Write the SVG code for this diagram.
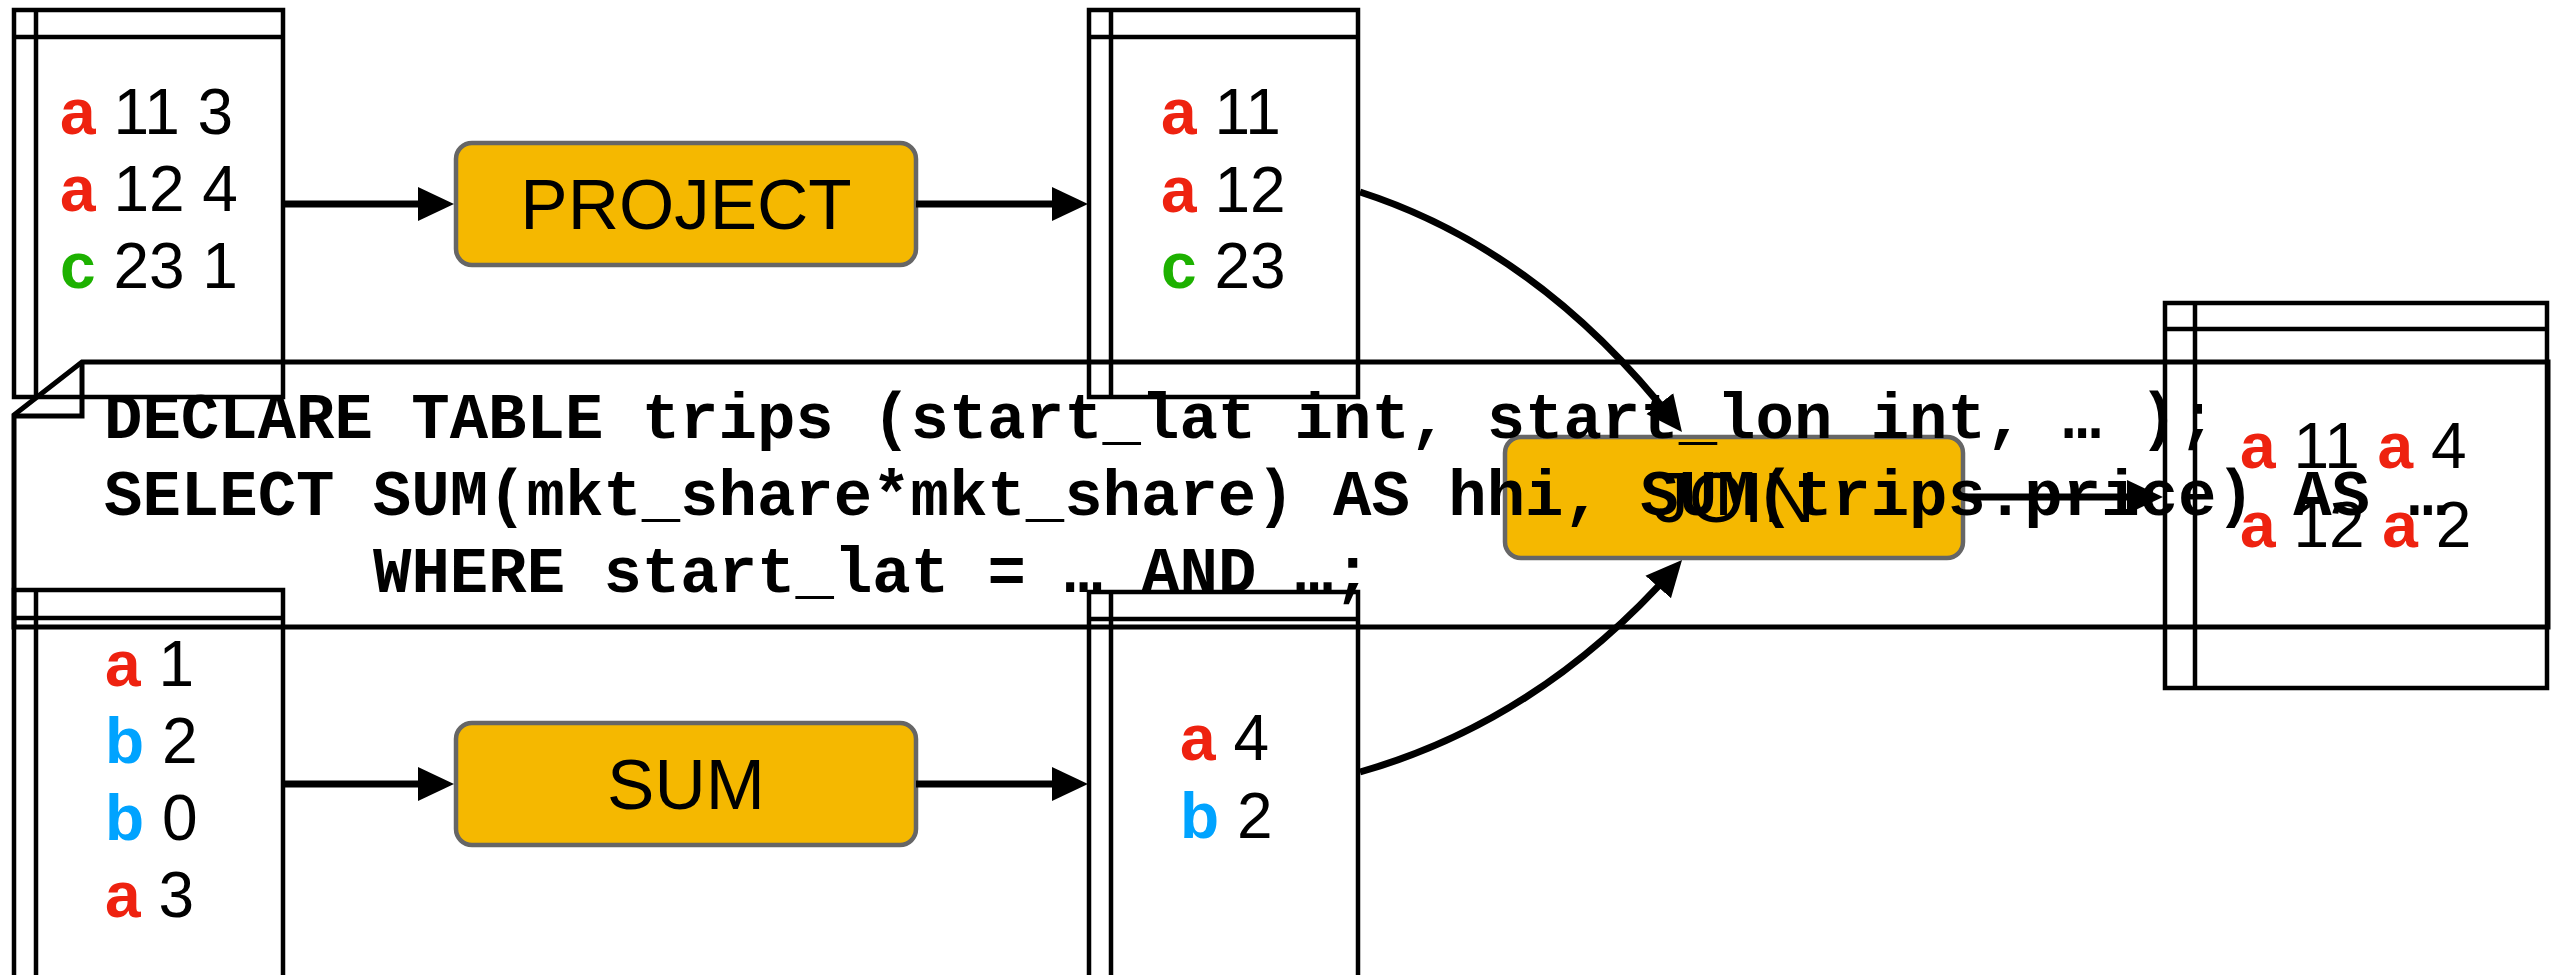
<svg xmlns="http://www.w3.org/2000/svg" width="2561" height="975" viewBox="0 0 2561 975">
  <style>
    .tbl { fill: #ffffff; stroke: #000000; stroke-width: 4.5; }
    .tline { fill: none; stroke: #000000; stroke-width: 4.5; }
    .note { fill: none; stroke: #000000; stroke-width: 5; stroke-linejoin: miter; }
    .op { fill: #f5b800; stroke: #666666; stroke-width: 4.5; }
    .opl { font-family: "Liberation Sans", Arial, Helvetica, sans-serif; font-size: 71px; fill: #000000; text-anchor: middle; }
    .row { font-family: "Liberation Sans", Arial, Helvetica, sans-serif; font-size: 64px; fill: #000000; }
    .ka { fill: #ee2210; font-weight: bold; }
    .kb { fill: #00a3ff; font-weight: bold; }
    .kc { fill: #1db100; font-weight: bold; }
    .sql { font-family: "Liberation Mono", "Courier New", monospace; font-size: 64px; font-weight: bold; fill: #000000; }
    .edge { fill: none; stroke: #000000; stroke-width: 7; }
  </style>
  <defs>
    <marker id="arrow" markerUnits="userSpaceOnUse" markerWidth="36" markerHeight="36" viewBox="0 0 36 36" refX="26" refY="18" orient="auto">
      <path d="M0,1 L36,18 L0,35 z" fill="#000000"/>
    </marker>
  </defs>

  <rect width="2561" height="975" fill="#ffffff"/>

  <!-- input table: key, lat, lon -->
  <g id="trips">
    <rect class="tbl" x="14" y="10" width="269" height="387"/>
    <path class="tline" d="M36,10 V397 M14,37 H283"/>
    <text class="row" x="60" y="134" xml:space="preserve"><tspan class="ka">a</tspan> 11 3</text>
    <text class="row" x="60" y="211" xml:space="preserve"><tspan class="ka">a</tspan> 12 4</text>
    <text class="row" x="60" y="288" xml:space="preserve"><tspan class="kc">c</tspan> 23 1</text>
  </g>

  <!-- projected table -->
  <g id="projected">
    <rect class="tbl" x="1089" y="10" width="269" height="387"/>
    <path class="tline" d="M1111,10 V397 M1089,37 H1358"/>
    <text class="row" x="1161" y="134" xml:space="preserve"><tspan class="ka">a</tspan> 11</text>
    <text class="row" x="1161" y="212" xml:space="preserve"><tspan class="ka">a</tspan> 12</text>
    <text class="row" x="1161" y="288" xml:space="preserve"><tspan class="kc">c</tspan> 23</text>
  </g>

  <!-- input table: key, price -->
  <g id="prices">
    <rect class="tbl" x="14" y="590" width="269" height="400"/>
    <path class="tline" d="M36,590 V990 M14,618 H283"/>
    <text class="row" x="105" y="686" xml:space="preserve"><tspan class="ka">a</tspan> 1</text>
    <text class="row" x="105" y="763" xml:space="preserve"><tspan class="kb">b</tspan> 2</text>
    <text class="row" x="105" y="840" xml:space="preserve"><tspan class="kb">b</tspan> 0</text>
    <text class="row" x="105" y="917" xml:space="preserve"><tspan class="ka">a</tspan> 3</text>
  </g>

  <!-- aggregated table -->
  <g id="summed">
    <rect class="tbl" x="1089" y="592" width="269" height="400"/>
    <path class="tline" d="M1111,592 V992 M1089,619 H1358"/>
    <text class="row" x="1180" y="760" xml:space="preserve"><tspan class="ka">a</tspan> 4</text>
    <text class="row" x="1180" y="838" xml:space="preserve"><tspan class="kb">b</tspan> 2</text>
  </g>

  <!-- joined result -->
  <g id="joined">
    <rect class="tbl" x="2165" y="303" width="382" height="385"/>
    <path class="tline" d="M2195,303 V688 M2165,329 H2547"/>
    <text class="row" x="2240" y="468" xml:space="preserve"><tspan class="ka">a</tspan> 11 <tspan class="ka">a</tspan> 4</text>
    <text class="row" x="2240" y="547" xml:space="preserve"><tspan class="ka">a</tspan> 12 <tspan class="ka">a</tspan> 2</text>
  </g>

  <!-- operators -->
  <g id="project">
    <rect class="op" x="456" y="143" width="460" height="122" rx="16" ry="16"/>
    <text class="opl" x="686" y="229">PROJECT</text>
  </g>
  <g id="sum">
    <rect class="op" x="456" y="723" width="460" height="122" rx="16" ry="16"/>
    <text class="opl" x="686" y="809">SUM</text>
  </g>
  <g id="join">
    <rect class="op" x="1505" y="437" width="458" height="121" rx="16" ry="16"/>
    <text class="opl" x="1734" y="522">JOIN</text>
  </g>

  <!-- SQL note with folded corner -->
  <g id="query">
    <path class="note" d="M82,362 H2548 V627 H14 V415 Z"/>
    <path class="note" d="M82,362 V416 H14"/>
    <text class="sql" x="104" y="438" xml:space="preserve">DECLARE TABLE trips (start_lat int, start_lon int, … );</text>
    <text class="sql" x="104" y="515" xml:space="preserve">SELECT SUM(mkt_share*mkt_share) AS hhi, SUM(trips.price) AS …</text>
    <text class="sql" x="373" y="592" xml:space="preserve">WHERE start_lat = … AND …;</text>
  </g>

  <!-- connectors -->
  <g id="edges">
    <path class="edge" d="M283,204 H444" marker-end="url(#arrow)"/>
    <path class="edge" d="M916,204 H1078" marker-end="url(#arrow)"/>
    <path class="edge" d="M283,784 H444" marker-end="url(#arrow)"/>
    <path class="edge" d="M916,784 H1078" marker-end="url(#arrow)"/>
    <path class="edge" d="M1360,192 Q1540,250 1675.8,424.1" marker-end="url(#arrow)"/>
    <path class="edge" d="M1360,772 Q1540,721 1675.4,567.5" marker-end="url(#arrow)"/>
    <path class="edge" d="M1963,497 H2153" marker-end="url(#arrow)"/>
  </g>
</svg>
